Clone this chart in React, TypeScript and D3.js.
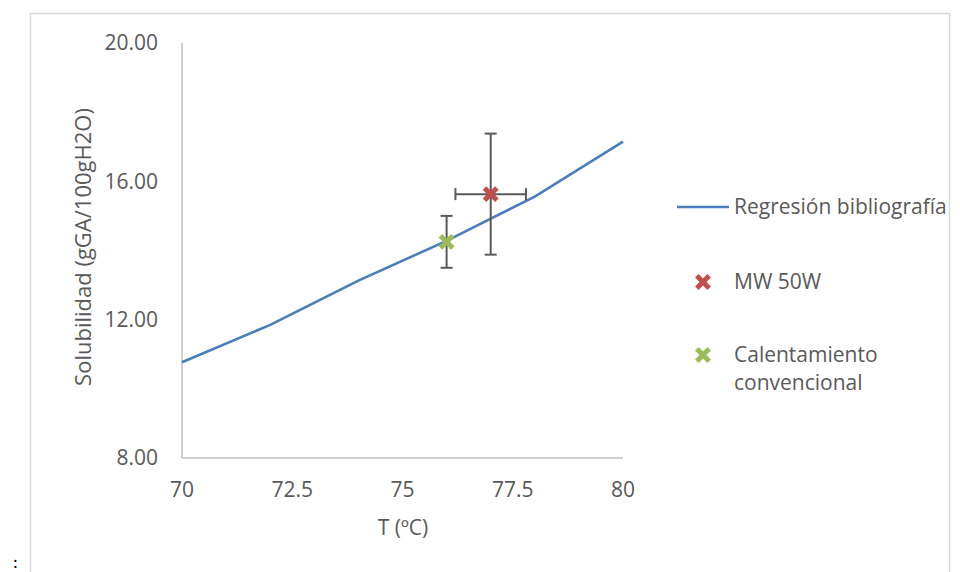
import * as d3 from 'd3';

const temps = [70, 72, 74, 76, 78, 80];
const regression = [10.77, 11.85, 13.13, 14.28, 15.56, 17.15];

const xTicks = [70, 72.5, 75, 77.5, 80];
const yTicks = [8, 12, 16, 20];

const points = [
  { name: 'MW 50W', t: 77, s: 15.63, et: 0.8, es: 1.75, color: '#C0504D' },
  { name: 'Calentamiento convencional', t: 76, s: 14.25, et: 0, es: 0.75, color: '#9BBB59' },
];

const FONT = '"Open Sans", sans-serif';
const TEXT = '#595959';
const FS = 21;

const Cross = ({ x, y, color }: { x: number; y: number; color: string }) => {
  const r = 6.2;
  return (
    <g stroke={color} strokeWidth={5}>
      <line x1={x - r} y1={y - r} x2={x + r} y2={y + r} />
      <line x1={x - r} y1={y + r} x2={x + r} y2={y - r} />
    </g>
  );
};

export default function App() {
  const x = d3.scaleLinear().domain([70, 80]).range([182, 623]);
  const y = d3.scaleLinear().domain([8, 20]).range([458, 43]);

  const line = d3
    .line<number>()
    .x((_, i) => x(temps[i]))
    .y((d) => y(d));

  const cap = 6;

  return (
    <svg
      width={960}
      height={572}
      style={{ position: 'absolute', left: 0, top: 0, background: '#fff' }}
      fontFamily={FONT}
    >
      <rect x={30.5} y={13.5} width={919} height={570} fill="none" stroke="#D9D9D9" strokeWidth={1.5} />

      {/* axes */}
      <line x1={x(70)} x2={x(70)} y1={y(20)} y2={y(8)} stroke="#BFBFBF" strokeWidth={1.5} />
      <line x1={x(70)} x2={x(80)} y1={y(8)} y2={y(8)} stroke="#BFBFBF" strokeWidth={1.5} />

      {yTicks.map((t) => (
        <text key={t} x={158} y={y(t)} dy="0.35em" textAnchor="end" fontSize={FS} fill={TEXT}>
          {t.toFixed(2)}
        </text>
      ))}
      {xTicks.map((t) => (
        <text key={t} x={x(t)} y={490} dy="0.35em" textAnchor="middle" fontSize={FS} fill={TEXT}>
          {t}
        </text>
      ))}

      <text x={403} y={528} dy="0.35em" textAnchor="middle" fontSize={FS} fill={TEXT}>
        T (ºC)
      </text>
      <text
        transform={`translate(83,247) rotate(-90)`}
        dy="0.35em"
        textAnchor="middle"
        fontSize={FS + 1}
        fill={TEXT}
      >
        Solubilidad (gGA/100gH2O)
      </text>

      <path d={line(regression) ?? ''} fill="none" stroke="#4A7EBB" strokeWidth={2.6} />

      {/* error bars */}
      {points.map((p) => (
        <g key={p.name} stroke="#595959" strokeWidth={2}>
          <line x1={x(p.t)} x2={x(p.t)} y1={y(p.s + p.es)} y2={y(p.s - p.es)} />
          <line x1={x(p.t) - cap} x2={x(p.t) + cap} y1={y(p.s + p.es)} y2={y(p.s + p.es)} />
          <line x1={x(p.t) - cap} x2={x(p.t) + cap} y1={y(p.s - p.es)} y2={y(p.s - p.es)} />
          {p.et > 0 && (
            <>
              <line x1={x(p.t - p.et)} x2={x(p.t + p.et)} y1={y(p.s)} y2={y(p.s)} />
              <line x1={x(p.t - p.et)} x2={x(p.t - p.et)} y1={y(p.s) - cap} y2={y(p.s) + cap} />
              <line x1={x(p.t + p.et)} x2={x(p.t + p.et)} y1={y(p.s) - cap} y2={y(p.s) + cap} />
            </>
          )}
        </g>
      ))}
      {points.map((p) => (
        <Cross key={p.name} x={x(p.t)} y={y(p.s)} color={p.color} />
      ))}

      {/* legend */}
      <line x1={677} x2={729} y1={207} y2={207} stroke="#4A7EBB" strokeWidth={2.6} />
      <text x={734} y={207} dy="0.35em" fontSize={FS} fill={TEXT}>
        Regresión bibliografía
      </text>
      <Cross x={703} y={282} color={points[0].color} />
      <text x={734} y={282} dy="0.35em" fontSize={FS} fill={TEXT}>
        MW 50W
      </text>
      <Cross x={703} y={355} color={points[1].color} />
      <text x={734} y={355} dy="0.35em" fontSize={FS} fill={TEXT}>
        Calentamiento
      </text>
      <text x={734} y={383} dy="0.35em" fontSize={FS} fill={TEXT}>
        convencional
      </text>

      <text x={13} y={568} fontFamily="Calibri, Carlito, sans-serif" fontSize={18} fill="#000">
        :
      </text>
    </svg>
  );
}
